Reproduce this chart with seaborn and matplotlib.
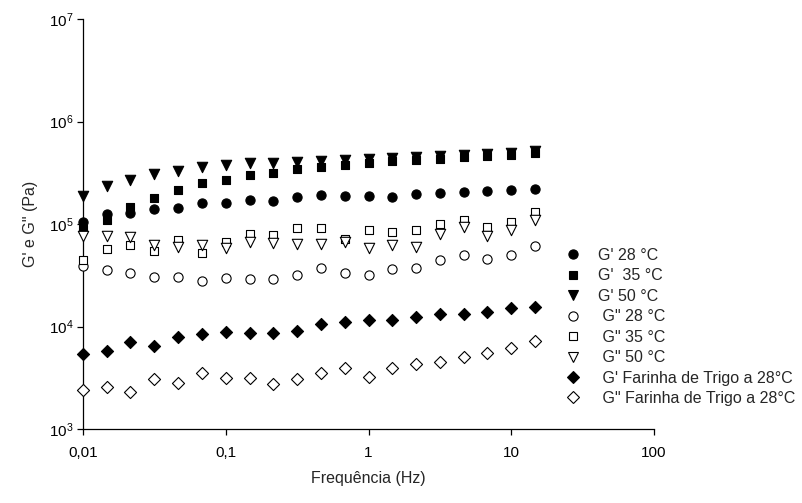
import matplotlib
matplotlib.use("Agg")
import numpy as np
import pandas as pd
import matplotlib.pyplot as plt
import seaborn as sns
from matplotlib.ticker import FixedLocator, FixedFormatter, NullLocator
from matplotlib.lines import Line2D

# ---------------- data ----------------
freq = [0.01, 0.0147, 0.0215, 0.0316, 0.0464, 0.0681, 0.1, 0.147, 0.215, 0.316,
        0.464, 0.681, 1.0, 1.47, 2.15, 3.16, 4.64, 6.81, 10.0, 14.7]

g1_28 = [1.05e5, 1.24e5, 1.29e5, 1.40e5, 1.42e5, 1.59e5, 1.59e5, 1.71e5, 1.69e5, 1.82e5,
         1.90e5, 1.89e5, 1.89e5, 1.82e5, 1.95e5, 2.00e5, 2.05e5, 2.10e5, 2.15e5, 2.18e5]
g1_35 = [8.87e4, 1.09e5, 1.47e5, 1.81e5, 2.15e5, 2.50e5, 2.69e5, 3.01e5, 3.16e5, 3.42e5,
         3.62e5, 3.76e5, 3.96e5, 4.10e5, 4.25e5, 4.35e5, 4.50e5, 4.65e5, 4.75e5, 4.95e5]
g1_50 = [1.88e5, 2.35e5, 2.69e5, 3.07e5, 3.31e5, 3.57e5, 3.74e5, 3.91e5, 3.96e5, 4.05e5,
         4.15e5, 4.25e5, 4.35e5, 4.45e5, 4.55e5, 4.65e5, 4.75e5, 4.85e5, 4.95e5, 5.10e5]
g2_28 = [3.89e4, 3.56e4, 3.35e4, 3.06e4, 3.03e4, 2.78e4, 2.95e4, 2.91e4, 2.90e4, 3.18e4,
         3.70e4, 3.30e4, 3.18e4, 3.61e4, 3.75e4, 4.45e4, 4.99e4, 4.53e4, 4.99e4, 6.10e4]
g2_35 = [4.45e4, 5.66e4, 6.24e4, 5.45e4, 6.98e4, 5.25e4, 6.72e4, 7.99e4, 7.81e4, 9.20e4,
         9.07e4, 7.14e4, 8.74e4, 8.40e4, 8.74e4, 1.00e5, 1.09e5, 9.42e4, 1.05e5, 1.30e5]
g2_50 = [7.64e4, 7.64e4, 7.50e4, 6.24e4, 5.92e4, 6.24e4, 5.79e4, 6.72e4, 6.57e4, 6.45e4,
         6.45e4, 6.72e4, 5.79e4, 6.24e4, 6.01e4, 7.99e4, 9.27e4, 7.64e4, 8.74e4, 1.09e5]
g1_trigo = [5.39e3, 5.81e3, 7.11e3, 6.50e3, 7.85e3, 8.45e3, 8.90e3, 8.60e3, 8.60e3, 9.04e3,
            1.05e4, 1.10e4, 1.15e4, 1.17e4, 1.25e4, 1.32e4, 1.33e4, 1.40e4, 1.52e4, 1.55e4]
g2_trigo = [2.40e3, 2.55e3, 2.31e3, 3.05e3, 2.79e3, 3.54e3, 3.16e3, 3.16e3, 2.75e3, 3.05e3,
            3.49e3, 3.91e3, 3.24e3, 3.91e3, 4.31e3, 4.47e3, 5.08e3, 5.55e3, 6.12e3, 7.22e3]

series_labels = ["G' 28 °C", "G'  35 °C", "G' 50 °C", ' G" 28 °C', ' G" 35 °C', ' G" 50 °C',
                 " G' Farinha de Trigo a 28°C", ' G" Farinha de Trigo a 28°C']
series_values = [g1_28, g1_35, g1_50, g2_28, g2_35, g2_50, g1_trigo, g2_trigo]

x_ticks = [0.01, 0.1, 1, 10, 100]
x_tick_labels = ["0,01", "0,1", "1", "10", "100"]
y_ticks = [1e3, 1e4, 1e5, 1e6, 1e7]

# ---------------- style ----------------
sns.set_style("ticks")
plt.rcParams["font.family"] = ["Liberation Sans", "DejaVu Sans"]
plt.rcParams["mathtext.fontset"] = "custom"
plt.rcParams["mathtext.rm"] = "Liberation Sans"
plt.rcParams["mathtext.it"] = "Liberation Sans:italic"
plt.rcParams["mathtext.bf"] = "Liberation Sans:bold"

markers = ["o", "s", "v", "o", "s", "v", "D", "D"]
filled = [True, True, True, False, False, False, True, False]
sizes = [44, 36, 56, 44, 36, 56, 38, 38]

df = pd.DataFrame({
    "freq": np.tile(freq, len(series_labels)),
    "G": np.concatenate(series_values),
    "serie": np.repeat(series_labels, len(freq)),
})

fig = plt.figure(figsize=(8.02, 5.03), dpi=100)
ax = fig.add_axes([83 / 802, 1 - 429 / 503, (654 - 83) / 802, (429 - 19) / 503])

handles = []
for lab, mk, fl, sz in zip(series_labels, markers, filled, sizes):
    sub = df[df["serie"] == lab]
    sns.scatterplot(data=sub, x="freq", y="G", ax=ax, marker=mk, s=sz,
                    color="black" if fl else "white", edgecolor="black",
                    linewidth=0.8, legend=False, zorder=3, clip_on=False)
    handles.append(Line2D([], [], linestyle="none", marker=mk,
                          markersize=np.sqrt(sz),
                          markerfacecolor="black" if fl else "white",
                          markeredgecolor="black", markeredgewidth=0.8, label=lab))

ax.set_xscale("log")
ax.set_yscale("log")
ax.set_xlim(0.01, 100)
ax.set_ylim(1e3, 1e7)
ax.xaxis.set_major_locator(FixedLocator(x_ticks))
ax.xaxis.set_major_formatter(FixedFormatter(x_tick_labels))
ax.xaxis.set_minor_locator(NullLocator())
ax.yaxis.set_major_locator(FixedLocator(y_ticks))
ax.yaxis.set_minor_locator(NullLocator())

for s in ["top", "right"]:
    ax.spines[s].set_visible(False)
for s in ["left", "bottom"]:
    ax.spines[s].set_linewidth(0.9)
    ax.spines[s].set_color("black")
ax.tick_params(axis="both", which="major", direction="out", length=4.5, width=0.9,
               color="black", labelsize=11, labelcolor="black")
ax.tick_params(axis="x", pad=8)
ax.tick_params(axis="y", pad=2.5)

ax.set_xlabel("Frequência (Hz)", fontsize=11.5, labelpad=8)
ax.set_ylabel('G\' e G" (Pa)', fontsize=11.5, labelpad=8)

leg = fig.legend(handles=handles, loc="upper left",
                 bbox_to_anchor=(561 / 802, 1 - 248 / 503),
                 frameon=False, fontsize=11.5, borderpad=0, borderaxespad=0,
                 handlelength=1.45, handletextpad=0.85, labelspacing=0.34)

fig.savefig("out.png", dpi=100)
